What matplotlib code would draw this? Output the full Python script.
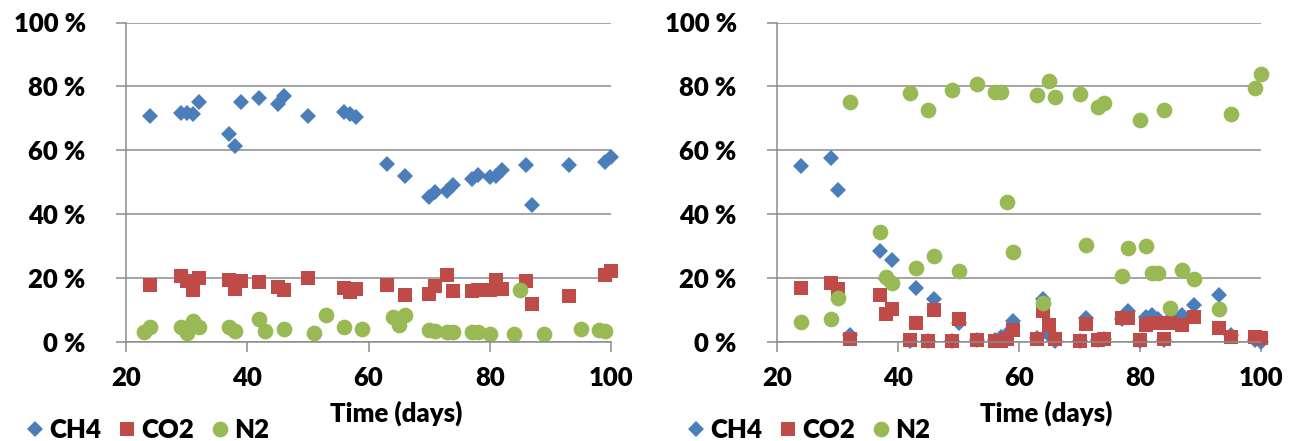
import numpy as np
import matplotlib
matplotlib.use("Agg")
import matplotlib.pyplot as plt
from matplotlib.lines import Line2D
from matplotlib.ticker import FuncFormatter

plt.rcParams['font.family'] = ['Lato', 'DejaVu Sans']
plt.rcParams['font.weight'] = 'heavy'

# Colours (Excel 2007 palette)
blue = '#4A7EBB'
red = '#BE4B48'
green = '#98B954'
grey = '#8C8C8C'

# ---- left panel data (% of gas) ----
days_ch4_left = [24, 29, 30, 31, 32, 37, 38, 39, 42, 45, 46, 50, 56, 57, 58, 63, 66,
                 70, 71, 73, 74, 77, 78, 80, 81, 82, 86, 87, 93, 99, 100]
ch4_left = [70.8, 71.6, 71.6, 71.2, 75.2, 64.9, 61.4, 75.0, 76.3, 74.3, 77.1, 70.8,
            71.9, 71.2, 70.5, 55.5, 51.8, 45.2, 47.0, 47.3, 49.2, 50.8, 52.2, 51.5,
            52.0, 53.8, 55.4, 42.9, 55.2, 56.2, 57.8]

days_co2_left = days_ch4_left
co2_left = [17.8, 20.5, 19.1, 16.0, 20.0, 19.4, 16.5, 18.9, 18.6, 17.2, 16.0, 19.8,
            16.7, 15.5, 16.5, 17.6, 14.7, 14.9, 17.3, 20.7, 15.7, 15.8, 16.3, 16.3,
            19.3, 16.5, 19.1, 11.6, 14.4, 20.7, 22.0]

days_n2_left = [23, 24, 29, 30, 31, 32, 37, 38, 42, 43, 46, 51, 53, 56, 59, 64, 65, 66,
                70, 71, 73, 74, 77, 78, 80, 84, 85, 89, 95, 98, 99]
n2_left = [2.9, 4.7, 4.7, 2.7, 6.3, 4.5, 4.7, 3.4, 6.9, 3.4, 3.8, 2.7, 8.4, 4.5, 4.0,
           7.8, 5.3, 8.2, 3.7, 3.2, 3.1, 2.9, 2.9, 3.1, 2.4, 2.4, 16.2, 2.4, 4.0, 3.7, 3.2]

# ---- right panel data ----
days_right = [24, 29, 30, 32, 37, 38, 39, 42, 43, 45, 46, 49, 50, 53, 56, 57, 58, 59,
              63, 64, 65, 66, 70, 71, 73, 74, 77, 78, 80, 81, 82, 83, 84, 85, 87, 89,
              93, 95, 99, 100]
ch4_right = [55.0, 57.6, 47.4, 2.0, 28.4, 19.6, 25.5, 0.2, 16.7, 0.2, 13.2, 0.2, 5.9,
             0.5, 0.5, 1.5, 2.5, 6.4, 1.0, 13.2, 2.0, 0.3, 0.2, 7.5, 0.5, 0.8, 7.0, 9.6,
             0.2, 7.7, 8.4, 7.0, 0.5, 7.0, 8.4, 11.3, 14.5, 2.0, 0.5, 0.0]
co2_right = [16.9, 18.4, 16.4, 0.9, 14.5, 8.5, 10.3, 0.4, 5.9, 0.2, 9.9, 0.2, 7.0,
             0.5, 0.3, 0.3, 0.7, 3.6, 0.7, 9.6, 5.1, 0.7, 0.2, 5.4, 0.5, 0.9, 7.3, 7.5,
             0.4, 5.1, 5.7, 5.7, 0.7, 5.7, 5.1, 7.7, 4.3, 1.5, 1.4, 1.0]
n2_right = [6.1, 7.0, 13.5, 75.2, 34.3, 20.3, 18.4, 78.0, 23.1, 72.6, 26.8, 78.7, 22.0,
            80.6, 78.3, 78.3, 43.7, 28.2, 77.2, 12.2, 81.7, 76.7, 77.7, 30.2, 73.5, 74.9,
            20.5, 29.2, 69.4, 29.9, 21.6, 21.6, 72.6, 10.4, 22.3, 19.5, 10.1, 71.2, 79.4,
            84.0]

x_ticks = [20, 40, 60, 80, 100]
y_ticks = [0, 20, 40, 60, 80, 100]

W, H = 1301, 441
fig = plt.figure(figsize=(W / 100, H / 100), dpi=100)

def make_axes(left_px, right_px):
    ax = fig.add_axes([left_px / W, (H - 341.5) / H, (right_px - left_px) / W, 319 / H])
    ax.set_xlim(20, 100)
    ax.set_ylim(0, 100)
    ax.set_xticks(x_ticks)
    ax.set_yticks(y_ticks)
    ax.yaxis.set_major_formatter(FuncFormatter(lambda v, p: f"{v:.0f} %"))
    ax.grid(axis='y', color=grey, lw=1.1)
    ax.set_axisbelow(True)
    for s in ['top', 'right']:
        ax.spines[s].set_visible(False)
    for s in ['left', 'bottom']:
        ax.spines[s].set_color(grey)
        ax.spines[s].set_linewidth(1.1)
    ax.tick_params(axis='both', color=grey, width=1.1, length=7, labelsize=18.5)
    ax.tick_params(axis='y', pad=22)
    ax.tick_params(axis='x', pad=11)
    for lab in ax.get_xticklabels() + ax.get_yticklabels():
        lab.set_fontweight('heavy')
    return ax

def draw(ax, dc, c, dco, co, dn, n):
    ax.plot(dc, c, 'D', color=blue, ms=8.4, mew=0, clip_on=False)
    ax.plot(dco, co, 's', color=red, ms=10.3, mew=0, clip_on=False)
    ax.plot(dn, n, 'o', color=green, ms=11.3, mew=0, clip_on=False)

ax1 = make_axes(126, 611)
draw(ax1, days_ch4_left, ch4_left, days_co2_left, co2_left, days_n2_left, n2_left)

ax2 = make_axes(777, 1261)
draw(ax2, days_right, ch4_right, days_right, co2_right, days_right, n2_right)

for cx in [396, 1046]:
    fig.text(cx / W, 1 - 413 / H, "Time (days)", ha='center', va='center',
             fontsize=18.5, fontweight='heavy')

handles = [Line2D([], [], ls='none', marker='D', color=blue, ms=8.4, mew=0),
           Line2D([], [], ls='none', marker='s', color=red, ms=10.3, mew=0),
           Line2D([], [], ls='none', marker='o', color=green, ms=11.3, mew=0)]
labels = ['CH4', 'CO2', 'N2']
for lx in [26, 687]:
    fig.legend(handles, labels, loc='center left', bbox_to_anchor=(lx / W, 1 - 430 / H),
               ncol=3, frameon=False, handlelength=0.7, handletextpad=0.22,
               columnspacing=0.64, borderpad=0, borderaxespad=0,
               prop={'weight': 'heavy', 'size': 18.5})

fig.savefig('out.png', dpi=100)
